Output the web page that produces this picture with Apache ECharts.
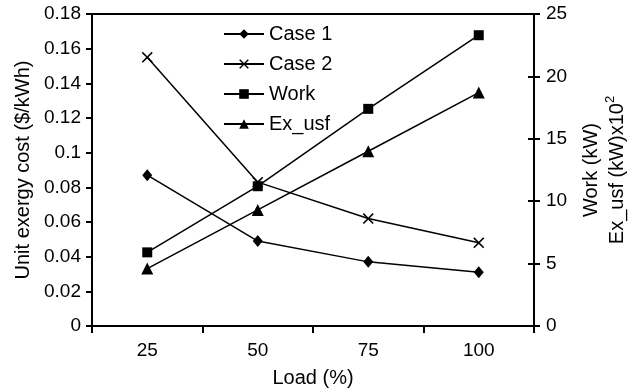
<!DOCTYPE html>
<html>
<head>
<meta charset="utf-8">
<script src="https://cdn.jsdelivr.net/npm/echarts@6/dist/echarts.min.js"></script>
<style>
    html, body { margin: 0; padding: 0; background: #fff; }
    #main { width: 629px; height: 390px; }
</style>
</head>
<body>
<div id="main"></div>
<script>
var loads = ['25', '50', '75', '100'];
var case1 = [0.087, 0.049, 0.037, 0.031];
var case2 = [0.155, 0.083, 0.062, 0.048];
var work = [5.9, 11.2, 17.4, 23.3];
var exUsf = [4.6, 9.3, 14.0, 18.7];

var FONT = 'Liberation Sans, Arial, sans-serif';
var crossPath = 'path://M0,1L1,0L5,4L9,0L10,1L6,5L10,9L9,10L5,6L1,10L0,9L4,5Z';

var chart = echarts.init(document.getElementById('main'));

function makeSeries(name, data, axis, symbol, size) {
    return {
        name: name,
        type: 'line',
        yAxisIndex: axis,
        data: data,
        symbol: symbol,
        symbolSize: size,
        showAllSymbol: true,
        itemStyle: { color: '#000' },
        lineStyle: { color: '#000', width: 1.5 },
        emphasis: { disabled: true },
        z: 3
    };
}

var option = {
    animation: false,
    textStyle: { fontFamily: FONT, color: '#000' },
    grid: {
        left: 92,
        right: 95,
        top: 14,
        bottom: 64,
        outerBoundsMode: 'none',
        containLabel: false,
        show: true,
        borderColor: '#000',
        borderWidth: 2
    },
    legend: {
        orient: 'vertical',
        left: 223,
        top: 24,
        padding: 0,
        itemWidth: 40,
        itemHeight: 12,
        itemGap: 10,
        textStyle: { fontSize: 20, color: '#000', fontFamily: FONT },
        data: ['Case 1', 'Case 2', 'Work', 'Ex_usf']
    },
    xAxis: {
        type: 'category',
        data: loads,
        boundaryGap: true,
        name: 'Load (%)',
        nameLocation: 'middle',
        nameGap: 42,
        nameTextStyle: { fontSize: 20, color: '#000' },
        axisLine: { lineStyle: { color: '#000', width: 2 } },
        axisTick: { show: true, length: 7, lineStyle: { color: '#000', width: 2 } },
        axisLabel: { fontSize: 19, color: '#000', margin: 15 },
        splitLine: { show: false }
    },
    yAxis: [
        {
            type: 'value',
            position: 'left',
            min: 0,
            max: 0.18,
            interval: 0.02,
            name: 'Unit exergy cost ($/kWh)',
            nameLocation: 'middle',
            nameRotate: 90,
            nameGap: 59,
            nameTextStyle: { fontSize: 20, color: '#000' },
            axisLine: { show: true, lineStyle: { color: '#000', width: 2 } },
            axisTick: { show: true, length: 6, lineStyle: { color: '#000', width: 2 } },
            axisLabel: { fontSize: 19, color: '#000', margin: 11 },
            splitLine: { show: false }
        },
        {
            type: 'value',
            position: 'right',
            min: 0,
            max: 25,
            interval: 5,
            name: 'Work (kW)\nEx_usf (kW)x10{sup|2}',
            nameLocation: 'middle',
            nameRotate: 90,
            nameGap: 43,
            nameTextStyle: {
                fontSize: 20,
                color: '#000',
                lineHeight: 26,
                rich: {
                    sup: { fontSize: 13, verticalAlign: 'top', lineHeight: 26, padding: [0, 0, 8, 0] }
                }
            },
            axisLine: { show: true, lineStyle: { color: '#000', width: 2 } },
            axisTick: { show: true, length: 6, lineStyle: { color: '#000', width: 2 } },
            axisLabel: { fontSize: 19, color: '#000', margin: 12 },
            splitLine: { show: false }
        },
        {
            // inner half of the crossing ticks on the right axis
            type: 'value',
            position: 'right',
            min: 0,
            max: 25,
            interval: 5,
            axisLine: { show: false },
            axisTick: { show: true, inside: true, length: 6, lineStyle: { color: '#000', width: 2 } },
            axisLabel: { show: false },
            splitLine: { show: false }
        }
    ],
    series: [
        makeSeries('Case 1', case1, 0, 'diamond', [10, 12]),
        makeSeries('Case 2', case2, 0, crossPath, 11),
        makeSeries('Work', work, 1, 'rect', 10),
        makeSeries('Ex_usf', exUsf, 1, 'triangle', 12)
    ]
};

chart.setOption(option);
</script>
</body>
</html>
